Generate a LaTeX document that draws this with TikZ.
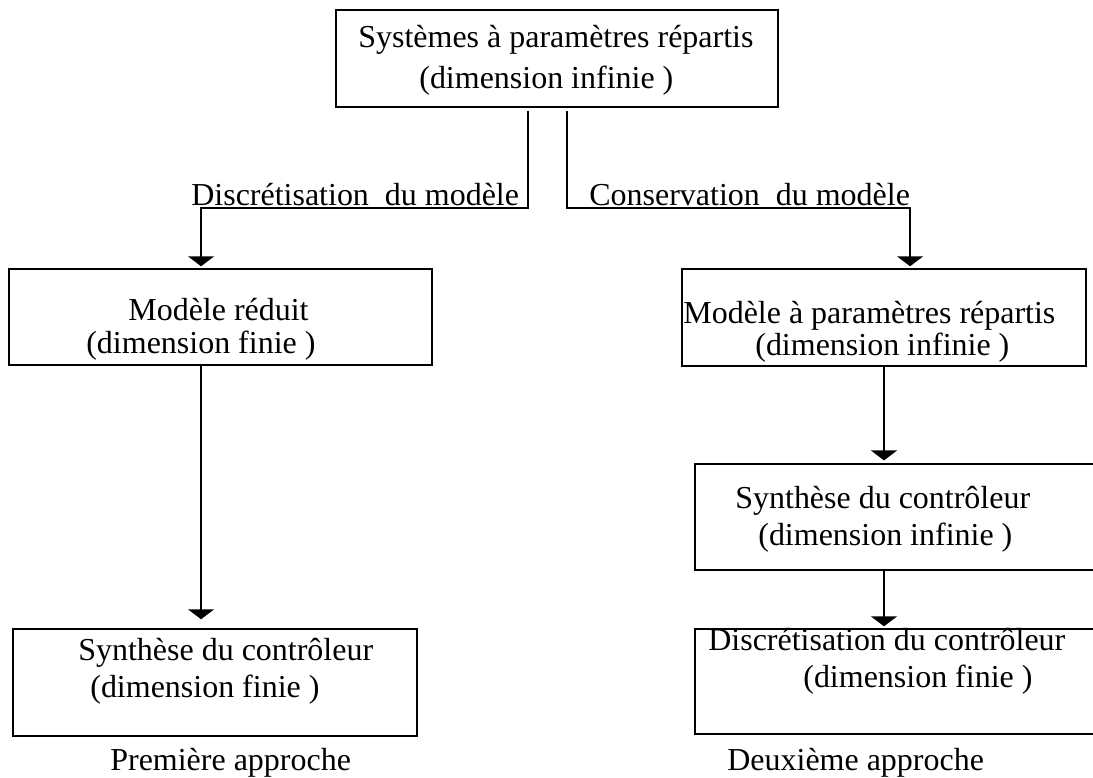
\documentclass[tikz,border=0pt]{standalone}
\usepackage{fontspec}
\setmainfont{Liberation Serif}
\usetikzlibrary{arrows.meta,calc}

\tikzset{
  boite/.style={draw, rectangle, line width=1.1pt, inner sep=0pt},
  texte/.style={anchor=base west, inner sep=0pt, font=\fontsize{18.2pt}{22pt}\selectfont},
  fleche/.style={line width=1.1pt, -{Triangle[width=14.8pt,length=5.7pt]}}
}

\begin{document}
\begin{tikzpicture}[x=0.02cm, y=-0.02cm]
        \clip (0,0) rectangle (1093,778);

        % Boites
        \node[boite, minimum width=8.84cm, minimum height=1.94cm] (systeme) at (557,58.5) {};
        \node[boite, minimum width=8.46cm, minimum height=1.92cm] (reduit) at (220.5,317) {};
        \node[boite, minimum width=8.08cm, minimum height=1.94cm] (repartis) at (884,317.5) {};
        \node[boite, minimum width=8.08cm, minimum height=2.14cm] (synthfin) at (215,682.5) {};
        \node[boite, minimum width=8.3cm, minimum height=2.12cm] (synthinf) at (902.5,517) {};
        \node[boite, minimum width=8.3cm, minimum height=2.1cm] (discctrl) at (902.5,681.5) {};

        % Textes des boites
        \node[texte] (systemeA) at (358,47.7) {Systèmes à paramètres répartis};
        \node[texte] (systemeB) at (419,88.3) {(dimension infinie )};
        \node[texte] (reduitA) at (128,320) {Modèle réduit};
        \node[texte] (reduitB) at (86,353) {(dimension finie )};
        \node[texte] (repartisA) at (683,323) {Modèle à paramètres répartis};
        \node[texte] (repartisB) at (755,355) {(dimension infinie )};
        \node[texte] (synthinfA) at (735,508) {Synthèse du contrôleur};
        \node[texte] (synthinfB) at (758,545) {(dimension infinie )};
        \node[texte] (discctrlA) at (708,650) {Discrétisation du contrôleur};
        \node[texte] (discctrlB) at (803,687) {(dimension finie )};
        \node[texte] (synthfinA) at (78,660) {Synthèse du contrôleur};
        \node[texte] (synthfinB) at (90,697) {(dimension finie )};

        % Branches
        \node[texte] (discmod) at (191,205) {Discrétisation~~du modèle};
        \node[texte] (consmod) at (589,205) {Conservation~~du modèle};
        \coordinate (brG) at (528,208);
        \coordinate (brD) at (567,208);
        \coordinate (colG) at ($(reduit.north west)+(193,0)$);
        \coordinate (colD) at ($(repartis.north west)+(229,0)$);
        \draw[fleche, shorten <=1.5pt, shorten >=1pt] (systeme.south -| brG) -- (brG) -| (colG);
        \draw[fleche, shorten <=1.5pt, shorten >=1pt] (systeme.south -| brD) -- (brD) -| (colD);

        % Liaisons verticales
        \draw[fleche, shorten >=5pt] (reduit.south -| colG) -- (synthfin.north -| colG);
        \draw[fleche, shorten >=1.5pt] (repartis.south) -- (repartis.south |- synthinf.north);
        \draw[fleche, shorten >=1pt] (synthinf.south -| repartis.south) -- (discctrl.north -| repartis.south);

        % Approches
        \node[texte] (approche1) at (110,770) {Première approche};
        \node[texte] (approche2) at (727,770) {Deuxième approche};
\end{tikzpicture}
\end{document}
